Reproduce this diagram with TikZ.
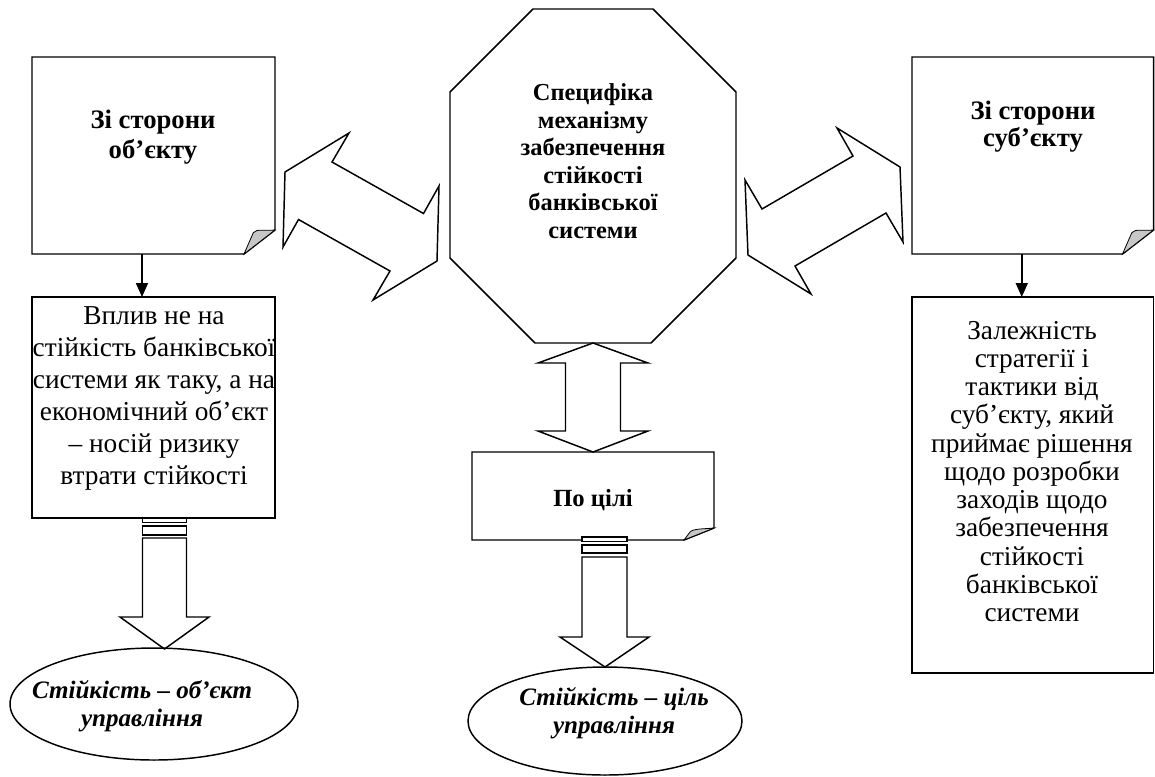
\documentclass[tikz,border=0pt]{standalone}
\usepackage{fontspec}
\setmainfont{Liberation Serif}
\usetikzlibrary{calc,arrows.meta,shapes.geometric}
\begin{document}
\begin{tikzpicture}[x=0.75pt,y=-0.75pt,
  every node/.style={inner sep=0pt,outer sep=0pt},
  frame/.style 2 args={rectangle,draw=none,minimum width=#1*0.75pt,minimum height=#2*0.75pt},
  oval/.style 2 args={ellipse,draw,line width=1.1pt,minimum width=#1*0.75pt,minimum height=#2*0.75pt},
  ln/.style={line width=1.1pt,line join=miter},
  stripe/.style={line width=1.1pt,fill=white},
  foldc/.style={fill=black!22,draw,line width=0.6pt},
  conn/.style={line width=1.3pt,-{Triangle[width=9pt,length=10.5pt]}},
  ttl/.style={align=center,font=\fontsize{20}{#1}\selectfont\bfseries},
  txt/.style={align=center,font=\fontsize{20.5}{#1}\selectfont},
  itl/.style={align=center,font=\fontsize{18.8}{21}\selectfont\bfseries\itshape},
]
\useasboundingbox (0,0) rectangle (1155,776);

% ---------- shapes (placeholders) ----------
\node[frame={243}{197}] (objT) at (153.5,155.5) {};
\node[frame={241.5}{197}] (subT) at (1032.75,155.5) {};
\node[frame={243}{221}] (objB) at (153.5,407.5) {};
\node[frame={241.5}{376}] (subB) at (1032.75,485) {};
\node[frame={286}{334}] (oct) at (593,176) {};
\node[frame={242}{88}] (goal) at (593,496) {};
\node[oval={288}{112}] (objE) at (154,704) {};
\node[oval={274}{108}] (goalE) at (605,721) {};

% ---------- folded-corner boxes ----------
\draw[ln] (objT.north west) -- (objT.north east) -- ($(objT.south east)+(0,-24)$)
  -- ($(objT.south east)+(-31,0)$) -- (objT.south west) -- cycle;
\draw[foldc] ($(objT.south east)+(-31,0)$) -- ($(objT.south east)+(-21.7,-21.3)$)
  .. controls ($(objT.south east)+(-18,-25.5)$) and ($(objT.south east)+(-11,-23)$) .. ($(objT.south east)+(0,-24)$) -- cycle;

\draw[ln] (subT.north west) -- (subT.north east) -- ($(subT.south east)+(0,-24)$)
  -- ($(subT.south east)+(-31,0)$) -- (subT.south west) -- cycle;
\draw[foldc] ($(subT.south east)+(-31,0)$) -- ($(subT.south east)+(-21.7,-21.3)$)
  .. controls ($(subT.south east)+(-18,-25.5)$) and ($(subT.south east)+(-11,-23)$) .. ($(subT.south east)+(0,-24)$) -- cycle;

\draw[ln] (goal.north west) -- (goal.north east) -- ($(goal.south east)+(0,-12)$)
  -- ($(goal.south east)+(-30,0)$) -- (goal.south west) -- cycle;
\draw[foldc] ($(goal.south east)+(-30,0)$) -- ($(goal.south east)+(-24,-8)$)
  .. controls ($(goal.south east)+(-21,-11.5)$) and ($(goal.south east)+(-10,-11)$) .. ($(goal.south east)+(0,-12)$) -- cycle;

% ---------- plain boxes ----------
\draw[ln] (objB.north west) rectangle (objB.south east);
\draw[ln] (subB.north west) rectangle (subB.south east);

% ---------- octagon ----------
\draw[ln] ($(oct.north west)+(83,0)$) -- ($(oct.north east)+(-83,0)$) -- ($(oct.north east)+(0,83)$)
  -- ($(oct.south east)+(0,-85)$) -- ($(oct.south east)+(-85,0)$) -- ($(oct.south west)+(85,0)$)
  -- ($(oct.south west)+(0,-85)$) -- ($(oct.north west)+(0,83)$) -- cycle;

% ---------- diagonal double arrows ----------
\coordinate (lc) at (361,216.5);
\coordinate (rc) at (824,211);
\begin{scope}[shift={(lc)}]
\draw[ln] (-29,-54.5) -- (-12,-83.5) -- (-76,-44.5) -- (-78,30.5) -- (-62.5,3) -- (29,54.5)
  -- (12,83.5) -- (76,44.5) -- (78,-30.5) -- (62.5,-3) -- cycle;
\end{scope}
\begin{scope}[shift={(rc)}]
\draw[ln] (-79,-31) -- (-62,-2) -- (29,-55) -- (13,-83) -- (76,-44) -- (79,31)
  -- (62,2) -- (-29,55) -- (-13,83) -- (-76,44) -- cycle;
\end{scope}

% ---------- vertical double arrow ----------
\draw[ln] (oct.south) -- ($(oct.south)+(55,20)$) -- ($(oct.south)+(27.5,20)$)
  -- ($(goal.north)+(27.5,-21)$) -- ($(goal.north)+(55,-21)$) -- (goal.north)
  -- ($(goal.north)+(-55,-21)$) -- ($(goal.north)+(-27.5,-21)$)
  -- ($(oct.south)+(-27.5,20)$) -- ($(oct.south)+(-55,20)$) -- cycle;

% ---------- striped block arrows ----------
\coordinate (la) at ($(objB.south)+(11,0)$);
\coordinate (le) at ($(objE.north)+(10.5,1)$);
\draw[stripe] ($(la)+(-22,0)$) rectangle ($(la)+(22,4.5)$);
\draw[stripe] ($(la)+(-22,8)$) rectangle ($(la)+(22,17)$);
\draw[ln] ($(la)+(-22,20)$) -- ($(la)+(-22,99)$) -- ($(la)+(-44.5,99)$) -- (le)
  -- ($(la)+(44.5,99)$) -- ($(la)+(22,99)$) -- ($(la)+(22,20)$) -- cycle;

\coordinate (ga) at ($(goal.south)+(11.5,0)$);
\draw[stripe] ($(ga)+(-22.5,-3)$) rectangle ($(ga)+(22.5,1.5)$);
\draw[stripe] ($(ga)+(-22.5,5)$) rectangle ($(ga)+(22.5,13)$);
\draw[ln] ($(ga)+(-22.5,17)$) -- ($(ga)+(-22.5,97)$) -- ($(ga)+(-44.5,97)$) -- (goalE.north)
  -- ($(ga)+(44.5,97)$) -- ($(ga)+(22.5,97)$) -- ($(ga)+(22.5,17)$) -- cycle;

% ---------- small connectors ----------
\draw[conn] ($(objT.south)+(-11.5,0)$) -- ($(objB.north)+(-11.5,0)$);
\draw[conn] ($(subT.south)+(-11,0)$) -- ($(subB.north)+(-11,0)$);

% ---------- texts ----------
\node[ttl=22.5pt] (objTt) at (153,137) {Зі сторони\\об’єкту};
\node[ttl=20.3pt] (subTt) at (1033,126.5) {Зі сторони\\суб’єкту};
\node[align=center,font=\fontsize{18.3}{20.6}\selectfont\bfseries] (octt) at (593,161)
  {Специфіка\\механізму\\забезпечення\\стійкості\\банківської\\системи};
\node[txt=24pt] (objBt) at (154,398)
  {Вплив не на\\стійкість банківської\\системи як таку, а на\\економічний об’єкт\\– носій ризику\\втрати стійкості};
\node[txt=21.2pt] (subBt) at (1032,471.5)
  {Залежність\\стратегії і\\тактики від\\суб’єкту, який\\приймає рішення\\щодо розробки\\заходів щодо\\забезпечення\\стійкості\\банківської\\системи};
\node[align=center,font=\fontsize{18.5}{21}\selectfont\bfseries] (goalt) at (593,500) {По цілі};
\node[itl] (objEt) at (142,706) {Стійкість – об’єкт\\управління};
\node[itl] (goalEt) at (614,713) {Стійкість – ціль\\управління};
\end{tikzpicture}
\end{document}
